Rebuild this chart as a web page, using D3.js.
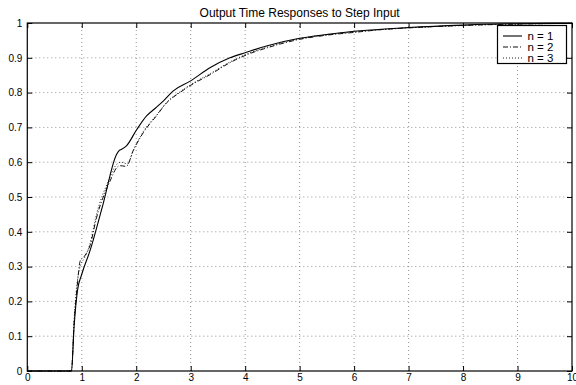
<!DOCTYPE html>
<html><head><meta charset="utf-8">
<script src="https://cdn.jsdelivr.net/npm/d3@7"></script>
<style>
body{margin:0;background:#fff;}
svg{display:block;font-family:"Liberation Sans",Arial,Helvetica,sans-serif;}
</style></head>
<body><svg id="chart" width="576" height="385"></svg>
<script>
const title = "Output Time Responses to Step Input";
const seriesNames = ["n = 1", "n = 2", "n = 3"];
const xTicks = [0,1,2,3,4,5,6,7,8,9,10];
const yTicks = [0,0.1,0.2,0.3,0.4,0.5,0.6,0.7,0.8,0.9,1];

const t1 = [0,0.81,0.86,0.92,1.0,1.15,1.39,1.64,1.69,1.73,1.82,2.01,2.19,2.35,2.50,2.68,2.99,3.36,3.72,4.01,4.39,5.0,5.5,5.92,6.5,7.0,8.0,9.0,10];
const y1 = [0,0,0.13,0.23,0.278,0.345,0.479,0.623,0.634,0.637,0.647,0.694,0.733,0.755,0.776,0.805,0.833,0.872,0.90,0.915,0.934,0.956,0.967,0.975,0.982,0.987,0.994,0.998,0.999];

const t2 = [0,0.81,0.86,0.92,0.97,1.05,1.15,1.27,1.52,1.64,1.70,1.82,1.94,2.13,2.37,2.56,2.80,2.99,3.36,3.72,4.05,4.39,5.0,5.5,6.0,6.5,7.0,8.0,9.0,10];
const y2 = [0,0,0.14,0.25,0.316,0.33,0.36,0.44,0.546,0.584,0.59,0.588,0.632,0.685,0.733,0.771,0.80,0.82,0.852,0.886,0.91,0.928,0.953,0.965,0.973,0.981,0.986,0.993,0.997,0.999];

const t3 = [0,0.81,0.86,0.92,0.97,1.05,1.15,1.27,1.50,1.62,1.72,1.84,1.95,2.13,2.37,2.56,2.80,2.99,3.36,3.72,4.05,4.39,5.0,5.5,6.0,6.5,7.0,8.0,9.0,10];
const y3 = [0,0,0.15,0.26,0.30,0.325,0.365,0.45,0.55,0.59,0.60,0.595,0.635,0.688,0.735,0.772,0.802,0.822,0.855,0.888,0.912,0.93,0.955,0.966,0.974,0.981,0.986,0.993,0.997,0.999];

const series = [
  {name: seriesNames[0], t: t1, y: y1, dash: null, w: 1.1, c: "#000"},
  {name: seriesNames[1], t: t2, y: y2, dash: "5,2,1,2", w: 1, c: "#111"},
  {name: seriesNames[2], t: t3, y: y3, dash: "1,2", w: 1, c: "#222"}
];

const L = 27.3, R = 572, T = 23, B = 371;
const svg = d3.select("#chart");
const x = d3.scaleLinear().domain([0,10]).range([L,R]);
const y = d3.scaleLinear().domain([0,1]).range([B,T]);

// grid
const g = svg.append("g");
g.selectAll(".gx").data(xTicks.slice(1,-1)).enter().append("line")
  .attr("x1", d=>x(d)).attr("x2", d=>x(d)).attr("y1", B).attr("y2", T)
  .attr("stroke", "#777").attr("stroke-width", 0.8).attr("stroke-dasharray", "1,3");
g.selectAll(".gy").data(yTicks.slice(1,-1)).enter().append("line")
  .attr("y1", d=>y(d)).attr("y2", d=>y(d)).attr("x1", L).attr("x2", R)
  .attr("stroke", "#777").attr("stroke-width", 0.8).attr("stroke-dasharray", "1,3");

// lines
const line = d3.line().x(d=>x(d[0])).y(d=>y(d[1])).curve(d3.curveMonotoneX);
series.slice().reverse().forEach(s => {
  const pts = s.t.map((tv,i)=>[tv, s.y[i]]);
  svg.append("path").datum(pts).attr("d", line)
    .attr("fill","none").attr("stroke",s.c).attr("stroke-width", s.w)
    .attr("stroke-dasharray", s.dash);
});

// axes
const ax = (gen) => gen.tickSizeInner(-5).tickSizeOuter(0);
svg.append("g").attr("transform",`translate(0,${B})`)
  .call(ax(d3.axisBottom(x).tickValues(xTicks).tickFormat(d=>d)).tickPadding(3))
  .call(s=>s.selectAll("text").attr("font-size",10).attr("fill","#000").attr("font-family","Liberation Sans, Arial"));
svg.append("g").attr("transform",`translate(0,${T})`)
  .call(ax(d3.axisTop(x).tickValues(xTicks)).tickFormat(""));
svg.append("g").attr("transform",`translate(${L},0)`)
  .call(ax(d3.axisLeft(y).tickValues(yTicks).tickFormat(d=>d)).tickPadding(5))
  .call(s=>s.selectAll("text").attr("font-size",10).attr("fill","#000").attr("font-family","Liberation Sans, Arial"));
svg.append("g").attr("transform",`translate(${R},0)`)
  .call(ax(d3.axisRight(y).tickValues(yTicks)).tickFormat(""));
svg.selectAll(".domain").remove();
svg.selectAll(".tick line").attr("stroke","#000");

// frame
svg.append("rect").attr("x",L).attr("y",T).attr("width",R-L).attr("height",B-T)
  .attr("fill","none").attr("stroke","#000").attr("stroke-width",1.2);

// title
svg.append("text").attr("x",(L+R)/2).attr("y",17).attr("text-anchor","middle")
  .attr("font-size",12).text(title);

// legend
const lg = svg.append("g");
lg.append("rect").attr("x",497.5).attr("y",25.5).attr("width",69).attr("height",38)
  .attr("fill","#fff").attr("stroke","#000").attr("stroke-width",1.2);
series.forEach((s,i)=>{
  const yy = 36 + i*11;
  lg.append("line").attr("x1",503).attr("x2",522).attr("y1",yy).attr("y2",yy)
    .attr("stroke",s.c).attr("stroke-width",s.w).attr("stroke-dasharray",s.dash);
  lg.append("text").attr("x",527.5).attr("y",yy+4).attr("font-size",11.5).text(s.name);
});
</script></body></html>
